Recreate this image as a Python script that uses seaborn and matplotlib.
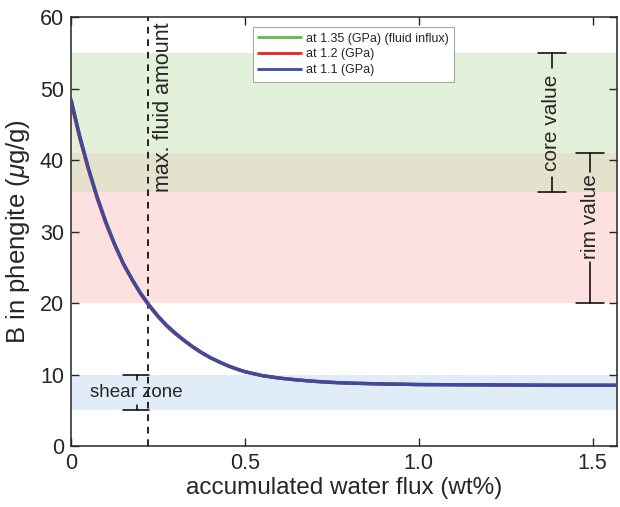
import numpy as np
import pandas as pd
import matplotlib
matplotlib.use("Agg")
import matplotlib.pyplot as plt
import seaborn as sns

# accumulated water flux (wt%) and B content of phengite (ug/g)
water_flux = [0.000, 0.025, 0.050, 0.075, 0.100, 0.125, 0.150, 0.175, 0.200,
              0.225, 0.250, 0.275, 0.300, 0.325, 0.350, 0.375, 0.400, 0.425,
              0.450, 0.475, 0.500, 0.550, 0.600, 0.650, 0.700, 0.750, 0.800,
              0.900, 1.000, 1.200, 1.400, 1.570]
b_135 = [48.5, 43.4, 38.9, 34.9, 31.4, 28.3, 25.6, 23.4, 21.4,
         19.7, 18.2, 16.9, 15.8, 14.8, 13.9, 13.1, 12.4, 11.8,
         11.25, 10.8, 10.4, 9.85, 9.5, 9.25, 9.05, 8.9, 8.8,
         8.68, 8.6, 8.55, 8.5, 8.5]
b_12 = [48.2, 43.1, 38.7, 34.7, 31.2, 28.2, 25.5, 23.3, 21.3,
        19.6, 18.1, 16.8, 15.7, 14.75, 13.85, 13.05, 12.35, 11.8,
        11.25, 10.8, 10.4, 9.85, 9.5, 9.25, 9.05, 8.9, 8.8,
        8.68, 8.6, 8.55, 8.5, 8.5]
b_11 = [48.5, 43.4, 38.9, 34.9, 31.4, 28.3, 25.6, 23.4, 21.4,
        19.7, 18.2, 16.9, 15.8, 14.8, 13.9, 13.1, 12.4, 11.8,
        11.25, 10.8, 10.4, 9.85, 9.5, 9.25, 9.05, 8.9, 8.8,
        8.68, 8.6, 8.55, 8.5, 8.5]
series_labels = ["at 1.35 (GPa) (fluid influx)", "at 1.2 (GPa)", "at 1.1 (GPa)"]
series_colors = ["#5dbb46", "#e8231f", "#3b4ba3"]

# measured ranges (ug/g)
core_range = (35.5, 55.0)
rim_range = (20.0, 41.0)
shear_range = (5.0, 10.0)
max_fluid = 0.222

x_ticks = [0, 0.5, 1.0, 1.5]
x_tick_labels = ["0", "0.5", "1.0", "1.5"]
y_ticks = [0, 10, 20, 30, 40, 50, 60]

df = pd.concat([
    pd.DataFrame({"flux": water_flux, "B": vals, "series": lab})
    for vals, lab in zip([b_135, b_12, b_11], series_labels)
], ignore_index=True)

sns.set_style("ticks")
plt.rcParams["font.family"] = ["Liberation Sans", "DejaVu Sans"]
plt.rcParams["mathtext.fontset"] = "custom"
plt.rcParams["mathtext.it"] = "Liberation Sans:italic"
plt.rcParams["mathtext.rm"] = "Liberation Sans"

fig = plt.figure(figsize=(6.2, 5.07), dpi=100)
ax = fig.add_axes([0.1145, 0.1203, 0.8805, 0.8457])

# measured ranges as shaded bands
ax.axhspan(*core_range, color="#e3f0da", lw=0, zorder=0)
ax.axhspan(*rim_range, color="#fde0e0", lw=0, zorder=0)
ax.axhspan(core_range[0], rim_range[1], color="#e4e1cc", lw=0, zorder=0.5)
ax.axhspan(*shear_range, color="#e0edf8", lw=0, zorder=0)

sns.lineplot(data=df, x="flux", y="B", hue="series", hue_order=series_labels,
             palette=series_colors, lw=2.4, ax=ax, zorder=3, sort=False)
for ln in ax.get_lines():
    ln.set_solid_joinstyle("round")
    ln.set_solid_capstyle("round")

ax.axvline(max_fluid, color="black", ls=(0, (4, 3.5)), lw=1.2, zorder=2)

ax.set_xlim(0, 1.57)
ax.set_ylim(0, 60)
ax.set_xticks(x_ticks)
ax.set_xticklabels(x_tick_labels)
ax.set_yticks(y_ticks)
ax.tick_params(direction="in", top=True, right=True, labelsize=15.5,
               length=6, width=1, pad=5)
for s in ax.spines.values():
    s.set_linewidth(1.1)
ax.set_xlabel("accumulated water flux (wt%)", fontsize=17.5, labelpad=2)
ax.set_ylabel(r"B in phengite ($\mathit{\mu}$g/g)", fontsize=18.5, labelpad=6)

ax.text(0.266, 59.3, "max. fluid amount", rotation=90, ha="center", va="top",
        fontsize=15.5, zorder=4)

# bracket for a measured range: caps at both ends, label in the middle
def bracket(xc, lo, hi, label, gap_lo, gap_hi, half=0.04):
    kw = dict(color="black", lw=1.1, zorder=4)
    ax.plot([xc - half, xc + half], [hi, hi], **kw)
    ax.plot([xc - half, xc + half], [lo, lo], **kw)
    ax.plot([xc, xc], [hi, gap_hi], **kw)
    ax.plot([xc, xc], [gap_lo, lo], **kw)
    ax.text(xc, (gap_lo + gap_hi) / 2, label, rotation=90, ha="center",
            va="center", fontsize=15, zorder=4)

bracket(1.383, core_range[0], core_range[1], "core value", 37.6, 52.9)
bracket(1.493, rim_range[0], rim_range[1], "rim value", 25.8, 38.3)

# shear zone bracket
kw = dict(color="black", lw=1.1, zorder=4)
ax.plot([0.150, 0.225], [shear_range[1]] * 2, **kw)
ax.plot([0.150, 0.225], [shear_range[0]] * 2, **kw)
ax.plot([0.19, 0.19], [shear_range[1], 9.3], **kw)
ax.plot([0.19, 0.19], [shear_range[0], 5.7], **kw)
ax.text(0.055, 7.5, "shear zone", ha="left", va="center", fontsize=13.5, zorder=5)

leg = ax.legend(loc="upper left", bbox_to_anchor=(0.333, 0.977), fontsize=9,
                handlelength=3.4, frameon=True, fancybox=False, framealpha=1,
                borderpad=0.45, labelspacing=0.3, handletextpad=0.4,
                borderaxespad=0)
leg.get_frame().set_edgecolor("#a8a8a8")
leg.get_frame().set_linewidth(0.8)
for h in leg.get_lines():
    h.set_linewidth(2)

fig.savefig("out.png", dpi=100)
